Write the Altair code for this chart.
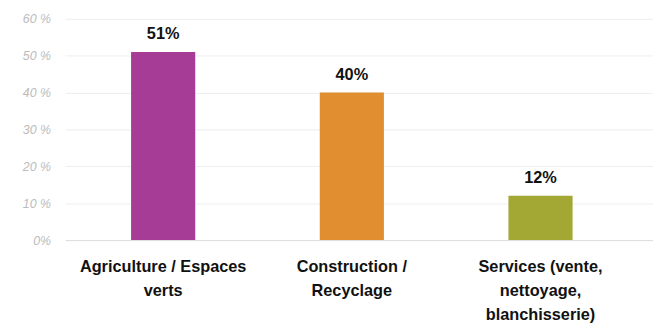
import altair as alt
import pandas as pd

categories = ["Agriculture / Espaces|verts", "Construction /|Recyclage", "Services (vente,|nettoyage,|blanchisserie)"]
values = [51, 40, 12]
labels = ["51%", "40%", "12%"]
colors = ["#A63C96", "#E08E30", "#A3A834"]

df = pd.DataFrame({"cat": categories, "val": values, "lab": labels})

x = alt.X("cat:N", sort=categories,
          scale=alt.Scale(paddingInner=0.66, paddingOuter=0.3875, align=0.45),
          axis=alt.Axis(title=None, labelAngle=0, ticks=False, domain=True, domainColor="#dddddd",
                        labelExpr="split(datum.label, '|')", labelFont="Liberation Sans",
                        labelFontWeight="bold", labelFontSize=16.5, labelColor="#111111",
                        labelLineHeight=24, labelPadding=19, labelBaseline="top"))
y = alt.Y("val:Q", scale=alt.Scale(domain=[0, 60], nice=False),
          axis=alt.Axis(title=None, values=[0, 10, 20, 30, 40, 50, 60], ticks=False, domain=False,
                        labelOverlap=False, gridColor="#eeeeee", labelColor="#bbbbbb",
                        labelFontStyle="italic", labelFont="Liberation Sans", labelFontSize=12.5,
                        labelPadding=15,
                        labelExpr="datum.value == 0 ? '0%' : datum.value + ' %'"))

bars = alt.Chart(df).mark_bar().encode(
    x=x, y=y,
    color=alt.Color("cat:N", sort=categories, scale=alt.Scale(domain=categories, range=colors), legend=None),
)
text = alt.Chart(df).mark_text(font="Liberation Sans", fontWeight="bold", fontSize=16.5,
                               color="#111111", dy=-13, baseline="alphabetic").encode(
    x=x, y=y, text="lab:N")

chart = alt.layer(bars, text).properties(
    width=595, height=224,
    autosize=alt.AutoSizeParams(type="none"),
    padding={"left": 58, "top": 9, "right": 0, "bottom": 85},
).configure_view(stroke=None)

chart.save("out.html", embed_options={"renderer": "svg", "actions": False})
